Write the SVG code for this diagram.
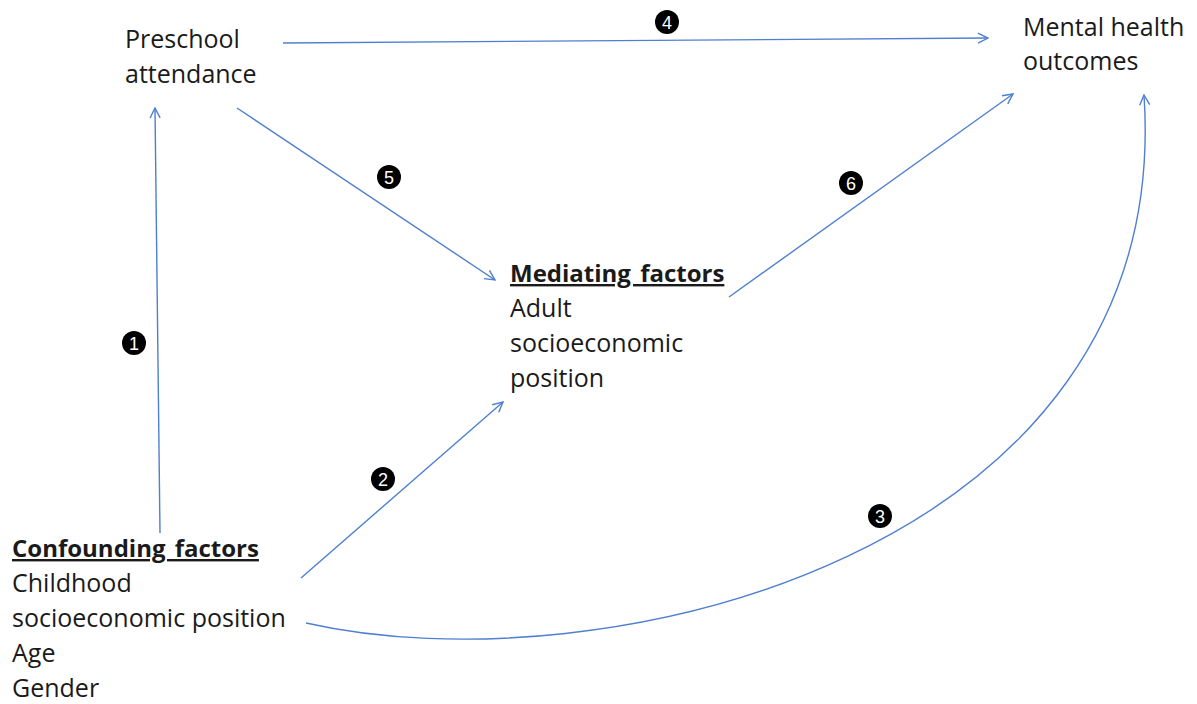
<svg xmlns="http://www.w3.org/2000/svg" width="1197" height="704" viewBox="0 0 1197 704">
<style>
.t{font-family:"Open Sans","Liberation Sans",sans-serif;font-size:25px;fill:#1a1a1a}
.b{font-weight:bold;text-decoration:underline;font-size:24px;word-spacing:3px}
.c{stroke:#4f7fd0;stroke-width:1.4;fill:none;marker-end:url(#ah)}
.n circle{fill:#000}
.n text{font-family:"Liberation Sans",sans-serif;font-size:18px;fill:#fff;text-anchor:middle}
</style>
<defs>
<marker id="ah" viewBox="0 0 12 12" refX="11" refY="6" markerWidth="12" markerHeight="12" markerUnits="userSpaceOnUse" orient="auto">
<path d="M1,1 L11,6 L1,11" fill="none" stroke="#4f7fd0" stroke-width="1.4"/>
</marker>
</defs>
<rect width="1197" height="704" fill="#fff"/>
<g id="preschool"><text class="t" x="125" y="48">Preschool</text><text class="t" x="125" y="83">attendance</text></g>
<g id="mental"><text class="t" x="1023" y="36">Mental health</text><text class="t" x="1023" y="70">outcomes</text></g>
<g id="mediating"><text class="t b" x="510" y="282">Mediating factors</text><text class="t" x="510" y="317">Adult</text><text class="t" x="510" y="352">socioeconomic</text><text class="t" x="510" y="387">position</text></g>
<g id="confounding"><text class="t b" x="12" y="557">Confounding factors</text><text class="t" x="12" y="592">Childhood</text><text class="t" x="12" y="627">socioeconomic position</text><text class="t" x="12" y="662">Age</text><text class="t" x="12" y="697">Gender</text></g>
<g id="connectors">
<line class="c" x1="283" y1="43" x2="988" y2="38"/>
<line class="c" x1="160" y1="533" x2="155" y2="108"/>
<line class="c" x1="237" y1="108" x2="495" y2="280"/>
<line class="c" x1="729" y1="297" x2="1013" y2="94"/>
<line class="c" x1="301" y1="578" x2="503" y2="402"/>
<path class="c" d="M306,623 C600,690 1175,555 1144,95"/>
</g>
<g id="labels">
<g class="n"><circle cx="134" cy="343" r="12"/><text x="134" y="349.5">1</text></g>
<g class="n"><circle cx="383" cy="479" r="12"/><text x="383" y="485.5">2</text></g>
<g class="n"><circle cx="880" cy="516" r="12"/><text x="880" y="522.5">3</text></g>
<g class="n"><circle cx="667" cy="22" r="12"/><text x="667" y="28.5">4</text></g>
<g class="n"><circle cx="389" cy="177" r="12"/><text x="389" y="183.5">5</text></g>
<g class="n"><circle cx="851" cy="183" r="12"/><text x="851" y="189.5">6</text></g>
</g>
</svg>
